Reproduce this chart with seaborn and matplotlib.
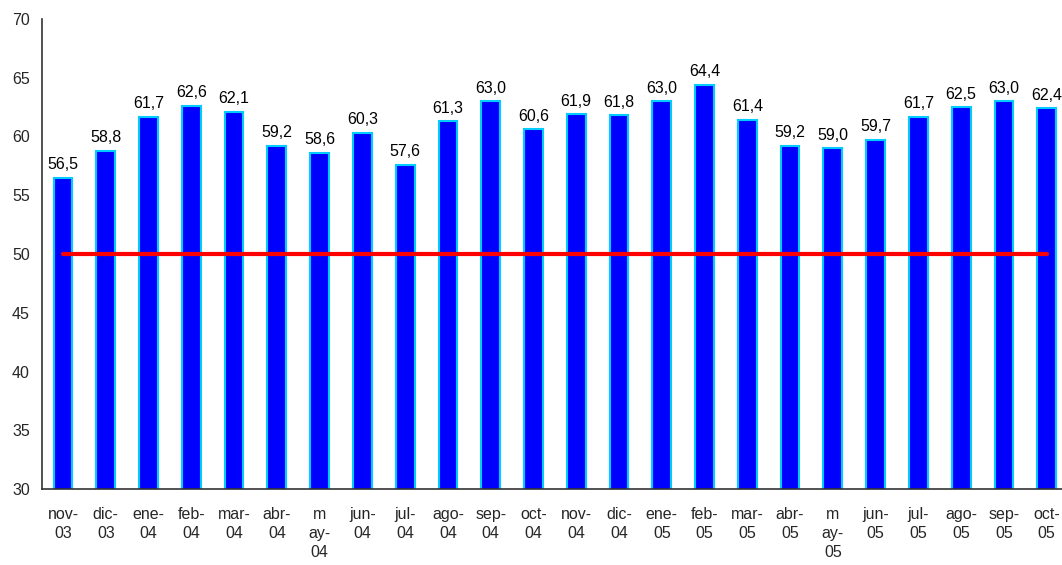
import numpy as np
import matplotlib.pyplot as plt
import seaborn as sns
import pandas as pd

# Monthly values (nov-03 .. oct-05)
months = ["nov-\n03", "dic-\n03", "ene-\n04", "feb-\n04", "mar-\n04", "abr-\n04",
          "m\nay-\n04", "jun-\n04", "jul-\n04", "ago-\n04", "sep-\n04", "oct-\n04",
          "nov-\n04", "dic-\n04", "ene-\n05", "feb-\n05", "mar-\n05", "abr-\n05",
          "m\nay-\n05", "jun-\n05", "jul-\n05", "ago-\n05", "sep-\n05", "oct-\n05"]
values = [56.5, 58.8, 61.7, 62.6, 62.1, 59.2, 58.6, 60.3, 57.6, 61.3, 63.0, 60.6,
          61.9, 61.8, 63.0, 64.4, 61.4, 59.2, 59.0, 59.7, 61.7, 62.5, 63.0, 62.4]
threshold = [50] * len(months)

df = pd.DataFrame({"month": months, "value": values, "ref": threshold})

sns.set_style("white")
plt.rcParams['font.family'] = ['Liberation Sans', 'DejaVu Sans']

fig = plt.figure(figsize=(10.62, 5.65), dpi=100)
# axes runs a bit past the right edge, like the original (cropped)
ax = fig.add_axes([41.6 / 1062, 1 - 489 / 565, 1026.5 / 1062, (489 - 19) / 565])

sns.barplot(data=df, x="month", y="value", ax=ax, color="#0000FF",
            saturation=1, width=0.44, edgecolor="#00CCFF", linewidth=1.5)
ax.plot(np.arange(len(months)), df["ref"], color="#FF0000", linewidth=3, zorder=3)

labels = [f"{v:.1f}".replace(".", ",") for v in values]
ax.bar_label(ax.containers[0], labels=labels, padding=4, fontsize=11.5, color="black")

ax.set_ylim(30, 70)
ax.set_xlim(-0.5, len(months) - 0.5)
ax.set_yticks(range(30, 71, 5))
ax.set_xlabel("")
ax.set_ylabel("")

# x tick marks sit between categories, labels at the centres
ax.set_xticks(np.arange(len(months)))
ax.set_xticklabels(months, linespacing=1.35)
ax.set_xticks(np.arange(-0.5, len(months), 1), minor=True)
ax.tick_params(axis="x", which="major", length=0, pad=13, labelsize=11.5)
ax.tick_params(axis="x", which="minor", length=9, direction="inout", color="#333333", width=1.2)
ax.tick_params(axis="y", length=9, direction="inout", color="#333333", width=1.2,
               pad=4, labelsize=11.5)

for side in ["top", "right"]:
    ax.spines[side].set_visible(False)
for side in ["left", "bottom"]:
    ax.spines[side].set_color("#333333")
    ax.spines[side].set_linewidth(1.2)

fig.savefig("out.png", dpi=100)
